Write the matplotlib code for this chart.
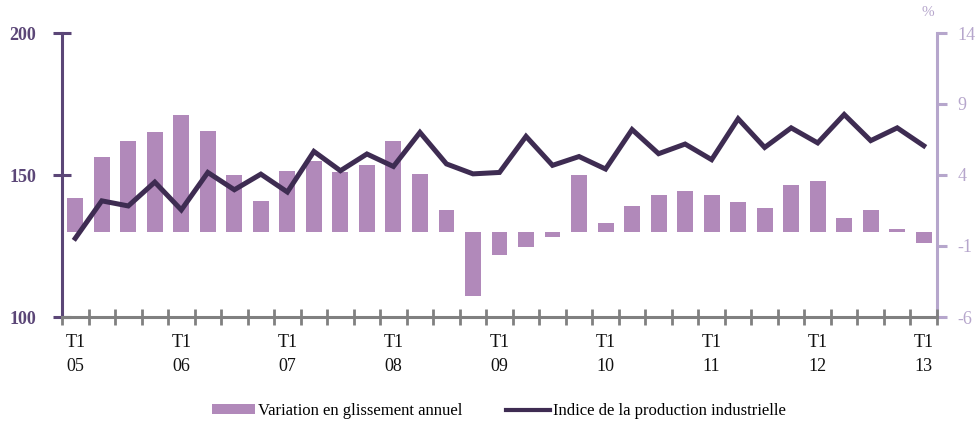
import numpy as np
import matplotlib
matplotlib.use("Agg")
import matplotlib.pyplot as plt
from matplotlib.patches import Patch
from matplotlib.lines import Line2D

plt.rcParams['font.family'] = ['Liberation Serif', 'DejaVu Serif']
plt.rcParams['axes.unicode_minus'] = False

# quarters T1 2005 .. T1 2013
quarters = list(range(33))
tick_labels = ["T1\n05", "T1\n06", "T1\n07", "T1\n08", "T1\n09",
               "T1\n10", "T1\n11", "T1\n12", "T1\n13"]

# annual change, % (right axis)
variation = [2.4, 5.3, 6.4, 7.0, 8.2, 7.1, 4.0, 2.2, 4.3, 5.0,
             4.2, 4.7, 6.4, 4.1, 1.5, -4.5, -1.6, -1.1, -0.4, 4.0,
             0.6, 1.8, 2.6, 2.9, 2.6, 2.1, 1.7, 3.3, 3.6, 1.0,
             1.5, 0.2, -0.8]

# industrial production index (left axis)
indice = [127.7, 140.9, 139.1, 147.5, 137.7, 150.9, 144.8, 150.3, 144.0, 158.3,
          151.5, 157.4, 153.0, 165.0, 153.9, 150.4, 150.9, 163.6, 153.4, 156.5,
          152.1, 166.0, 157.5, 160.9, 155.4, 169.8, 159.7, 166.6, 161.3, 171.3,
          162.1, 166.6, 160.3]

bar_color = "#B189BA"
line_color = "#3E2C52"
left_color = "#5B4677"
right_color = "#B6A6CC"
axis_gray = "#808080"

fig = plt.figure(figsize=(9.78, 4.28), dpi=100)
ax = fig.add_axes([62/978, 1-317/428, (937-62)/978, (317-33)/428])
ax2 = ax.twinx()

# bars on the right axis, behind the line
ax2.bar(quarters, variation, width=0.6, color=bar_color, zorder=2)
ax2.set_ylim(-6, 14)
ax2.set_yticks([-6, -1, 4, 9, 14])

ax.plot(quarters, indice, color=line_color, lw=3.6, solid_joinstyle="miter", zorder=3)
ax.set_ylim(100, 200)
ax.set_yticks([100, 150, 200])
ax.set_xlim(-0.5, 32.5)

ax.set_zorder(ax2.get_zorder() + 1)
ax.patch.set_visible(False)

# x axis
ax.set_xticks(range(0, 33, 4))
ax.set_xticklabels(tick_labels, fontsize=13, color="#111111", linespacing=1.6)
ax.set_xticks(np.arange(-0.5, 33, 1), minor=True)
ax.tick_params(axis="x", which="major", length=0, pad=12)
ax.tick_params(axis="x", which="minor", direction="inout", length=11, width=2, color=axis_gray)

ax.spines["bottom"].set_color(axis_gray)
ax.spines["bottom"].set_linewidth(2.2)
ax.spines["bottom"].set_zorder(5)
ax.spines["top"].set_visible(False)
ax.spines["right"].set_visible(False)
ax.spines["left"].set_color(left_color)
ax.spines["left"].set_linewidth(2.2)
ax.tick_params(axis="y", direction="inout", length=13, width=2.2, color=left_color,
               labelcolor=left_color, labelsize=13, pad=12)
for lab in ax.get_yticklabels():
    lab.set_fontweight("bold")

for s in ["top", "left", "bottom"]:
    ax2.spines[s].set_visible(False)
ax2.spines["right"].set_color(right_color)
ax2.spines["right"].set_linewidth(2.2)
ax2.tick_params(axis="y", direction="out", length=7, width=2.2, color=right_color,
                labelcolor=right_color, labelsize=13, pad=8)

fig.text(928/978, 1-13/428, "%", color=right_color, fontsize=11, ha="center", va="center")

handles = [Patch(facecolor=bar_color, edgecolor="none"),
           Line2D([0], [0], color=line_color, lw=3)]
fig.legend(handles, ["Variation en glissement annuel", "Indice de la production industrielle"],
           loc="center", bbox_to_anchor=(0.51, 1-411/428), ncol=2, frameon=False,
           fontsize=12, handlelength=2.6, handleheight=0.5, handletextpad=0.2,
           columnspacing=2.6)

fig.savefig("out.png", dpi=100)
